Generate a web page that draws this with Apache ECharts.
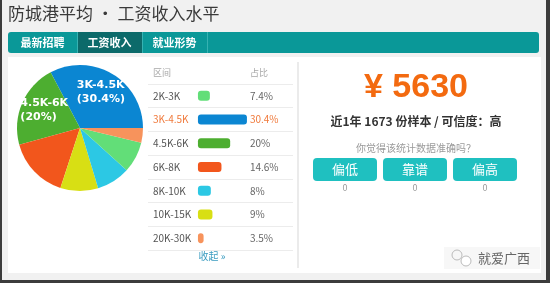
<!DOCTYPE html>
<html>
<head>
<meta charset="UTF-8">
<title>防城港平均工资收入水平</title>
<script src="https://cdn.jsdelivr.net/npm/echarts/dist/echarts.min.js"></script>
<style>
html, body { margin: 0; padding: 0; background: #f1f1f1; }
#main { width: 550px; height: 283px; }
</style>
</head>
<body>
<div id="main"></div>
<script>
// 数据
var ranges = ['2K-3K', '3K-4.5K', '4.5K-6K', '6K-8K', '8K-10K', '10K-15K', '20K-30K'];
var shares = [7.4, 30.4, 20, 14.6, 8, 9, 3.5];
var rangeColors = ['#62de78', '#0b86d2', '#4dae30', '#f2561c', '#2cc8e4', '#d8df14', '#f7935c'];
var highlightIndex = 1;
var tabs = ['最新招聘', '工资收入', '就业形势'];
var activeTab = 1;
var avgSalary = 5630;
var sampleCount = 1673;
var credibility = '高';
var voteLabels = ['偏低', '靠谱', '偏高'];
var voteCounts = [0, 0, 0];

var CJK = '"Noto Sans CJK SC", "Noto Sans", sans-serif';
var myChart = echarts.init(document.getElementById('main'));

// 饼图按占比从大到小
var pieData = ranges.map(function (r, i) {
	return { name: r, value: shares[i], itemStyle: { color: rangeColors[i] } };
}).sort(function (a, b) { return b.value - a.value; });
pieData[0].label = { show: true, offset: [3, -6] };
pieData[1].label = { show: true, offset: [-4, -4] };

var barData = shares.map(function (v, i) {
	return {
		value: v,
		itemStyle: { color: rangeColors[i] },
		label: { color: i === highlightIndex ? '#f07a3c' : '#666' }
	};
});

// 页面装饰
var g = [];
g.push({ type: 'rect', z: -10, shape: { x: 0, y: 0, width: 550, height: 283 }, style: { fill: '#f1f1f1' } });
g.push({ type: 'rect', z: -9, shape: { x: 0, y: 0, width: 2, height: 283 }, style: { fill: '#3c3c3c' } });
g.push({ type: 'rect', z: -9, shape: { x: 546, y: 0, width: 4, height: 283 }, style: { fill: '#3c3c3c' } });
g.push({ type: 'rect', z: -9, shape: { x: 0, y: 280, width: 550, height: 3 }, style: { fill: '#3c3c3c' } });
g.push({ type: 'rect', z: -9, shape: { x: 8, y: 57, width: 533, height: 216 }, style: { fill: '#ffffff' } });
g.push({ type: 'rect', z: -8, shape: { x: 297, y: 62, width: 2, height: 206 }, style: { fill: '#ebebeb' } });

g.push({ type: 'text', z: 10, left: 8, top: 5, style: { text: '防城港平均 • 工资收入水平', font: 'normal 17px ' + CJK, fill: '#3a3a3a' } });

// 标签栏
g.push({ type: 'rect', z: -8, shape: { x: 8, y: 32, width: 531, height: 21, r: 3 }, style: { fill: '#0a9898' } });
var tabX = [8, 77, 142];
var tabW = [69, 65, 65];
tabs.forEach(function (t, i) {
	if (i === activeTab) {
		g.push({ type: 'rect', z: -7, shape: { x: tabX[i], y: 32, width: tabW[i], height: 21 }, style: { fill: '#0c6a6a' } });
	}
	g.push({ type: 'rect', z: -6, shape: { x: tabX[i] + tabW[i], y: 32, width: 1, height: 21 }, style: { fill: '#36b2b2' } });
	g.push({ type: 'text', z: 10, x: tabX[i] + tabW[i] / 2, y: 42.5,
		style: { text: t, font: 'bold 11px ' + CJK, fill: '#ffffff', align: 'center', verticalAlign: 'middle' } });
});

// 表头 + 收起
g.push({ type: 'text', z: 10, x: 153, y: 73, style: { text: '区间', font: '9px ' + CJK, fill: '#a8a8a8', verticalAlign: 'middle' } });
g.push({ type: 'text', z: 10, x: 250, y: 73, style: { text: '占比', font: '9px ' + CJK, fill: '#a8a8a8', verticalAlign: 'middle' } });
g.push({ type: 'text', z: 10, x: 212, y: 256, style: { text: '收起 »', font: '10px ' + CJK, fill: '#3b9cc0', align: 'center', verticalAlign: 'middle' } });

// 右侧
var cx = 416;
g.push({ type: 'text', z: 10, x: cx, y: 88, style: { text: '¥ ' + avgSalary, font: 'bold 34px "Liberation Sans", Arial, sans-serif', fill: '#f36a10', align: 'center', verticalAlign: 'middle' } });
g.push({ type: 'text', z: 10, x: cx, y: 121, style: { text: '近1年 ' + sampleCount + ' 份样本 / 可信度：' + credibility, font: 'bold 12px ' + CJK, fill: '#333', align: 'center', verticalAlign: 'middle' } });
g.push({ type: 'text', z: 10, x: cx, y: 148, style: { text: '你觉得该统计数据准确吗？', font: '10px ' + CJK, fill: '#9a9a9a', align: 'center', verticalAlign: 'middle' } });
var btnX = [313, 383, 453];
voteLabels.forEach(function (t, i) {
	g.push({ type: 'rect', z: 5, shape: { x: btnX[i], y: 158, width: 64, height: 23, r: 4 }, style: { fill: '#1fc0c0' } });
	g.push({ type: 'text', z: 10, x: btnX[i] + 32, y: 169.5, style: { text: t, font: '13px ' + CJK, fill: '#ffffff', align: 'center', verticalAlign: 'middle' } });
	g.push({ type: 'text', z: 10, x: btnX[i] + 32, y: 188, style: { text: String(voteCounts[i]), font: '9px ' + CJK, fill: '#9a9a9a', align: 'center', verticalAlign: 'middle' } });
});

// 水印
g.push({ type: 'rect', z: 5, shape: { x: 444, y: 247, width: 96, height: 22 }, style: { fill: '#f7f7f7' } });
g.push({ type: 'circle', z: 6, shape: { cx: 457, cy: 255, r: 5 }, style: { fill: 'none', stroke: '#bbb', lineWidth: 1 } });
g.push({ type: 'circle', z: 6, shape: { cx: 466, cy: 261, r: 5 }, style: { fill: '#fff', stroke: '#bbb', lineWidth: 1 } });
g.push({ type: 'text', z: 10, x: 478, y: 258, style: { text: '就爱广西', font: '13px ' + CJK, fill: '#666', verticalAlign: 'middle' } });

var option = {
	animation: false,
	graphic: { elements: g },
	grid: { left: 148, top: 84, width: 145, height: 166 },
	xAxis: { type: 'value', min: -31, max: 59, show: false },
	yAxis: {
		type: 'category',
		data: ranges,
		inverse: true,
		axisLine: { show: false, onZero: false },
		axisTick: { show: false },
		axisLabel: {
			inside: true,
			margin: 5,
			fontSize: 10,
			fontFamily: CJK,
			color: function (v, i) { return i === highlightIndex ? '#f07a3c' : '#555'; }
		},
		splitLine: { show: true, lineStyle: { color: '#ececec', width: 1 } }
	},
	series: [{
		type: 'pie',
		center: [80, 128],
		radius: 63,
		startAngle: 0,
		clockwise: false,
		silent: true,
		data: pieData,
		itemStyle: { borderWidth: 0 },
		labelLine: { show: false },
		label: {
			show: false,
			position: 'inside',
			formatter: function (p) { return '{a|' + p.name + '}\n{a|(' + p.value + '%)}'; },
			rich: {
				a: { width: 48, align: 'left', color: '#fff', fontSize: 11, fontWeight: 'bold', fontFamily: '"DejaVu Sans", sans-serif', lineHeight: 14 }
			}
		}
	}, {
		type: 'bar',
		data: barData,
		barWidth: 10,
		itemStyle: { borderRadius: 3 },
		label: {
			show: true,
			position: [52, '50%'],
			verticalAlign: 'middle',
			formatter: '{c}%',
			fontSize: 10,
			fontFamily: CJK
		}
	}]
};
myChart.setOption(option);
</script>
</body>
</html>
